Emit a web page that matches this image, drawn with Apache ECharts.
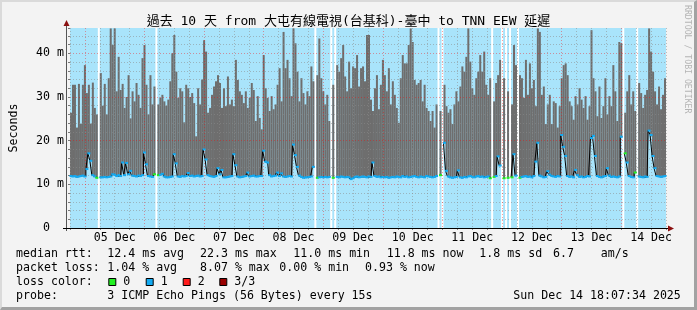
<!DOCTYPE html>
<html><head><meta charset="utf-8">
<script src="https://cdn.jsdelivr.net/npm/echarts@6/dist/echarts.min.js"></script>
<style>
html,body{margin:0;padding:0;background:#f3f3f3;}
#frame{position:absolute;left:0;top:0;width:697px;height:310px;box-sizing:border-box;background:#f3f3f3;border-top:2px solid #dadada;border-left:2px solid #dadada;border-right:3px solid #a2a2a2;border-bottom:3px solid #a2a2a2;}
#chart{position:absolute;left:0;top:0;width:697px;height:310px;}
</style></head><body>
<div id="frame"></div><div id="chart"></div>
<script>
// ---------- data ----------
const titleText = '過去 10 天 from 大屯有線電視(台基科)-臺中 to TNN EEW 延遲';
const dayLabels = ['05 Dec','06 Dec','07 Dec','08 Dec','09 Dec','10 Dec','11 Dec','12 Dec','13 Dec','14 Dec'];
const yTickLabels = ['0  ','10 m','20 m','30 m','40 m'];
// max rtt of the smoke per 48-minute step (ms), null = no data
const smokeTop = [
26.4,32.8,32.8,23.0,33.0,23.9,32.8,37.3,30.9,32.8,
23.9,33.3,27.5,26.0,null,35.5,28.0,33.0,26.0,34.3,
45.7,41.9,45.7,31.3,39.2,31.6,33.0,27.5,30.0,35.0,
25.1,31.3,29.0,33.2,30.5,27.5,38.9,41.9,32.8,26.0,
35.0,28.3,32.4,null,28.3,29.8,30.5,29.0,28.0,29.4,
33.6,40.0,44.2,35.8,29.8,32.0,31.3,24.2,32.8,32.0,
30.0,30.9,28.6,21.0,32.0,28.3,34.0,43.0,40.4,26.4,
27.5,30.5,32.4,33.6,35.0,33.2,27.5,32.0,27.9,34.7,
28.3,29.4,27.9,38.5,33.9,31.3,30.5,28.6,31.3,27.5,
29.8,33.2,31.6,24.5,30.2,25.2,22.6,39.6,32.0,29.8,
26.8,30.2,27.2,28.3,32.8,36.6,29.0,44.9,36.6,38.5,
34.3,30.2,45.7,42.3,35.8,29.0,34.3,30.9,28.3,31.3,
30.2,37.0,33.6,null,35.0,43.4,34.3,31.3,28.3,30.5,
24.5,null,32.8,null,37.3,35.8,38.9,41.9,34.7,31.3,
38.1,32.0,37.0,36.6,39.6,32.4,36.6,37.0,33.6,44.2,
44.2,29.4,26.8,32.0,35.0,27.2,32.8,38.5,35.0,31.3,
36.6,28.3,33.6,30.5,27.5,24.1,34.3,39.6,37.7,37.7,
41.9,45.7,42.6,33.9,32.8,33.2,33.9,29.0,32.8,27.5,
26.8,24.5,26.8,23.0,28.3,null,26.8,null,32.8,27.9,
26.4,27.2,23.8,28.3,31.3,29.0,32.4,37.0,35.8,39.2,
45.7,38.1,32.0,30.5,34.3,35.8,39.6,35.8,40.4,32.8,
30.5,34.3,null,29.0,33.2,35.0,38.5,null,34.3,null,
31.3,null,28.3,41.9,37.3,null,35.0,34.3,29.8,38.5,
30.5,37.7,32.0,33.9,27.9,45.7,44.9,30.5,32.4,23.8,
28.3,30.5,23.8,29.0,28.6,23.0,27.9,34.3,37.3,37.7,
35.0,29.0,27.9,24.8,30.2,28.3,32.0,29.4,27.5,30.2,
24.8,27.9,45.3,34.3,31.3,25.6,32.4,25.2,27.9,34.3,
26.0,30.2,27.9,37.3,31.3,24.5,42.6,42.3,null,26.4,
31.3,35.0,28.3,31.3,26.8,null,33.2,30.9,27.5,30.5,
31.6,45.7,40.4,35.8,31.3,28.3,32.4,27.2,30.5,34.3
];
// median rtt per step (ms)
const median = [
11.9,11.8,11.9,11.7,11.8,11.9,12.0,11.8,13.5,17.1,
15.4,12.1,11.8,11.5,null,11.6,11.6,11.7,11.6,11.7,
11.8,12.3,12.2,11.9,12.1,11.9,15.0,12.1,14.9,12.3,
13.1,12.0,11.9,11.8,12.0,11.9,12.1,17.3,14.6,11.9,
11.8,11.7,12.3,null,12.1,12.2,12.4,11.8,11.6,11.6,
11.7,11.8,16.9,14.8,11.8,11.7,11.9,11.8,11.9,12.6,
11.9,12.0,11.8,11.9,12.0,11.8,11.9,18.0,15.7,12.1,
11.9,11.8,11.7,11.9,13.7,12.3,13.3,11.6,11.6,11.7,
11.8,11.9,16.9,14.4,11.8,11.6,11.7,11.8,11.9,12.7,
11.8,11.9,12.0,11.8,11.8,11.9,11.9,17.7,15.2,15.0,
12.1,11.8,11.9,12.0,12.7,11.9,12.5,11.8,11.7,11.8,
11.9,11.8,19.1,16.7,14.0,12.0,11.7,11.5,11.6,11.6,
11.7,11.8,14.0,null,11.5,11.6,11.7,11.6,11.7,11.6,
11.7,null,11.5,null,11.7,11.6,11.8,11.7,11.6,11.7,
11.6,11.2,11.4,11.7,11.8,11.6,11.7,11.8,11.7,11.6,
11.8,11.7,15.0,11.9,11.7,11.8,11.6,11.7,11.6,11.7,
11.5,11.6,11.7,11.6,11.8,11.7,11.6,11.9,11.7,11.8,
11.6,11.7,11.8,11.9,11.7,11.6,11.8,11.7,11.6,11.9,
11.8,11.7,11.6,11.7,11.9,null,12.1,null,19.5,13.1,
11.8,11.6,11.5,11.6,11.7,13.2,11.6,11.5,11.7,11.6,
11.8,11.9,11.7,11.6,11.8,11.9,11.7,11.8,11.6,11.7,
11.8,11.4,null,11.7,11.9,16.4,14.3,null,11.4,null,
11.5,null,11.6,16.9,12.0,null,11.5,11.7,11.8,11.9,
11.7,11.8,11.6,11.9,15.2,19.5,12.0,11.8,11.6,11.7,
13.0,12.2,11.9,11.8,11.7,11.9,11.8,21.3,18.6,16.5,
11.9,11.7,11.8,11.6,13.3,12.1,11.7,11.8,11.6,11.7,
11.9,11.8,20.6,21.1,16.5,11.9,11.7,11.6,11.8,11.9,
13.7,12.0,11.7,11.8,11.7,11.6,11.8,20.9,null,17.1,
15.0,11.9,11.7,11.6,12.7,null,11.8,11.7,11.6,11.8,
11.7,22.3,21.3,16.5,13.7,11.9,11.8,11.7,11.8,11.9
];
// steps whose median is drawn in the "0" loss colour (others are "1")
const lossZeroIdx = [13,42,44,124,132,186,211,213,218,220,222,226,279,284];

const rttTexts = ['median rtt:','12.4 ms avg','22.3 ms max','11.0 ms min','11.8 ms now','1.8 ms sd','6.7','am/s'];
const lossTexts = ['packet loss:','1.04 % avg','8.07 % max','0.00 % min','0.93 % now'];
const lossColorLabels = ['loss color:','0','1','2','3/3'];
const probeTexts = ['probe:','3 ICMP Echo Pings (56 Bytes) every 15s','Sun Dec 14 18:07:34 2025'];
const watermark = 'RRDTOOL / TOBI OETIKER';

// ---------- layout / style ----------
const GL = 66, GT = 28, GW = 600, GH = 200;
const YMAX = 45.8;
const BAR_W = GW / smokeTop.length;
const BLUE_BG = '#a9e4fb', GREY = '#6e6e6e', WHITE = '#ffffff';
const C0 = '#22f022', C1 = '#12aaf2', C2 = '#ff1a1a', C3 = '#990000';
const MINOR = 'rgba(140,140,140,0.55)', MAJOR = 'rgba(255,0,0,0.38)';
const MONO = '"DejaVu Sans Mono", monospace';
const FS = 11.6;
const rowY = [254, 268, 282, 296];
const rttX = [16, 107.3, 200, 293.3, 386.7, 479.3, 553, 600.7];
const lossX = [16, 107.3, 200, 279.3, 365];
const boxX = [108.3, 145.7, 182.7, 219.3];
const boxLabelX = [16, 123.3, 160.7, 197.7, 234.3];
const probeX = [16, 107.3, 513.3];

const cats = smokeTop.map((_, i) => i);
const gapBars = smokeTop.map(v => v == null ? YMAX : '-');
const smokeBase = median.map((m, i) => (m == null || smokeTop[i] == null) ? '-' : m);
const smokeBand = smokeTop.map((t, i) => (t == null || median[i] == null) ? '-' : +(t - median[i]).toFixed(2));
const medianItems = median.map((m, i) => m == null ? null :
  { value: m, itemStyle: { color: lossZeroIdx.indexOf(i) >= 0 ? C0 : C1 } });

function txt(text, x, y, extra) {
  return Object.assign({ type: 'text', z: 20, style: { text: text, x: x, y: y, fill: '#000',
    font: FS + 'px ' + MONO, align: 'left', verticalAlign: 'middle' } }, extra || {});
}
const g = [];
g.push(txt(titleText, 348.5, 21.5));
g[0].style.align = 'center';
g[0].style.font = '13px "DejaVu Sans Mono", "Noto Sans CJK TC", monospace';
rttTexts.forEach((t, i) => g.push(txt(t, rttX[i], rowY[0])));
lossTexts.forEach((t, i) => g.push(txt(t, lossX[i], rowY[1])));
lossColorLabels.forEach((t, i) => g.push(txt(t, boxLabelX[i], rowY[2])));
[C0, C1, C2, C3].forEach((c, i) => g.push({ type: 'rect', z: 20,
  shape: { x: boxX[i] + 0.5, y: rowY[2] - 3.5, width: 7, height: 7 },
  style: { fill: c, stroke: '#000', lineWidth: 1 } }));
probeTexts.forEach((t, i) => g.push(txt(t, probeX[i], rowY[3])));
g.push({ type: 'text', z: 20, x: 687, y: 5, rotation: -Math.PI / 2,
  style: { text: watermark, x: 0, y: 0, fill: '#b4b4b4', font: '8.2px ' + MONO, align: 'left', verticalAlign: 'middle' } });
// axis lines and arrows
g.push({ type: 'line', z: 15, shape: { x1: GL + 0.5, y1: GT - 3, x2: GL + 0.5, y2: GT + GH + 3 }, style: { stroke: '#555', lineWidth: 1 } });
g.push({ type: 'line', z: 15, shape: { x1: GL - 3, y1: GT + GH + 0.5, x2: GL + GW + 3, y2: GT + GH + 0.5 }, style: { stroke: '#000', lineWidth: 1 } });
g.push({ type: 'polygon', z: 16, shape: { points: [[GL + GW + 2, GT + GH - 2.5], [GL + GW + 2, GT + GH + 3.5], [GL + GW + 8, GT + GH + 0.5]] }, style: { fill: '#8b1010' } });
g.push({ type: 'polygon', z: 16, shape: { points: [[GL - 2.5, GT - 2], [GL + 3.5, GT - 2], [GL + 0.5, GT - 8]] }, style: { fill: '#8b1010' } });

const barCommon = { xAxisIndex: 0, barWidth: BAR_W, barGap: '-100%', silent: true, z: 1, large: false };
const chart = echarts.init(document.getElementById('chart'), null, { renderer: 'canvas' });
chart.setOption({
  animation: false,
  backgroundColor: 'transparent',
  grid: { left: GL, top: GT, width: GW, height: GH, show: true, backgroundColor: BLUE_BG, borderWidth: 0 },
  xAxis: [
    { type: 'category', data: cats, boundaryGap: true, show: false, gridIndex: 0 },
    { type: 'value', gridIndex: 0, position: 'bottom', min: 18, max: 258, interval: 6, z: 2,
      axisLine: { show: false },
      axisTick: { show: true, length: 2, lineStyle: { color: '#888' } },
      axisLabel: { show: true, margin: 4, color: '#000', fontFamily: MONO, fontSize: FS,
        formatter: v => (Math.round(v) % 24 === 12) ? dayLabels[(Math.round(v) - 36) / 24] : '' },
      splitLine: { show: true, lineStyle: { color: [MINOR, MAJOR, MINOR, MINOR], type: [1, 2], width: 1 } } }
  ],
  yAxis: [{ type: 'value', min: 0, max: YMAX, interval: 2, z: 2,
    name: 'Seconds', nameLocation: 'middle', nameGap: 50, nameRotate: 90,
    nameTextStyle: { fontFamily: MONO, fontSize: FS, color: '#000' },
    axisLine: { show: false },
    axisTick: { show: true, length: 2, lineStyle: { color: '#777' } },
    axisLabel: { margin: 6, color: '#000', fontFamily: MONO, fontSize: FS,
      formatter: v => { const k = Math.round(v); return (Math.abs(v - k) < 1e-6 && k % 10 === 0) ? yTickLabels[k / 10] : ''; } },
    splitLine: { show: true, showMaxLine: false, lineStyle: { color: [MAJOR, MINOR, MINOR, MINOR, MINOR], type: [1, 2], width: 1 } } }],
  series: [
    Object.assign({ type: 'bar', data: gapBars, itemStyle: { color: WHITE } }, barCommon),
    Object.assign({ type: 'bar', stack: 'smoke', data: smokeBase, itemStyle: { color: 'rgba(0,0,0,0)' } }, barCommon),
    Object.assign({ type: 'bar', stack: 'smoke', data: smokeBand, itemStyle: { color: GREY } }, barCommon),
    { type: 'line', xAxisIndex: 0, data: medianItems, step: 'middle', connectNulls: false, showAllSymbol: true,
      symbol: 'rect', symbolSize: [3, 2], lineStyle: { color: '#000', width: 1 }, z: 3, silent: true }
  ],
  graphic: g
});
</script>
</body></html>
